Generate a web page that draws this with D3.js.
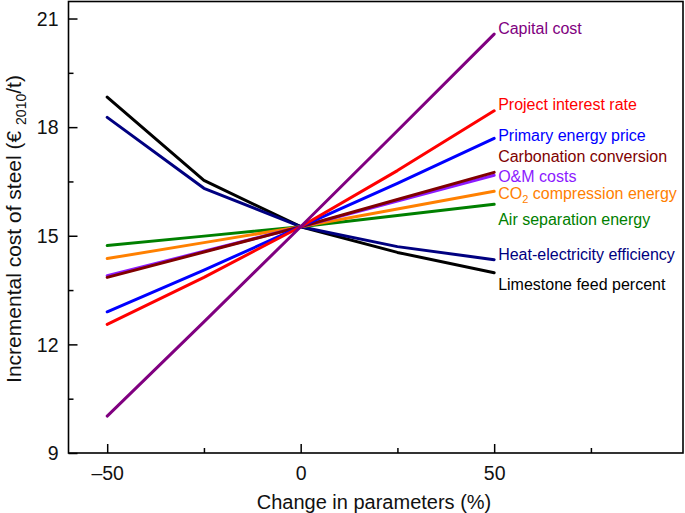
<!DOCTYPE html>
<html>
<head>
<meta charset="utf-8">
<script src="https://cdn.jsdelivr.net/npm/d3@7"></script>
<style>
  html, body { margin: 0; padding: 0; background: #fff; }
  svg { display: block; font-family: "Liberation Sans", Arial, Helvetica, sans-serif; }
</style>
</head>
<body>
<svg id="chart" width="685" height="513"></svg>
<script>
// ---- data ----
const xValues = [-50, -25, 0, 25, 50];
const seriesNames = [
  "Limestone feed percent",
  "Heat-electricity efficiency",
  "Air separation energy",
  "CO2 compression energy",
  "O&M costs",
  "Carbonation conversion",
  "Primary energy price",
  "Project interest rate",
  "Capital cost"
];
const limestone   = [18.83, 16.53, 15.25, 14.54, 13.98];
const heatElec    = [18.27, 16.31, 15.25, 14.70, 14.34];
const airSep      = [14.73, 14.99, 15.25, 15.56, 15.87];
const co2Comp     = [14.37, 14.81, 15.25, 15.74, 16.23];
const omCosts     = [13.90, 14.57, 15.25, 15.96, 16.67];
const carbonation = [13.85, 14.55, 15.25, 16.00, 16.75];
const primary     = [12.90, 14.05, 15.25, 16.45, 17.69];
const interest    = [12.55, 13.85, 15.25, 16.80, 18.45];
const capital     = [10.02, 12.62, 15.25, 17.90, 20.57];
const seriesColors = ["#000000", "#000080", "#008000", "#ff8000", "#8c1aff", "#800000", "#0000ff", "#ff0000", "#800080"];
// label anchor (value units) next to line ends
const labelAt = [13.65, 14.48, 15.45, 16.17, 16.64, 17.19, 17.78, 18.63, 20.74];
const yTicks = [9, 12, 15, 18, 21];
const yMinor = [10.5, 13.5, 16.5, 19.5];
const xTicks = [-50, 0, 50];
const xMinor = [-25, 25, 75];

const seriesValues = [limestone, heatElec, airSep, co2Comp, omCosts, carbonation, primary, interest, capital];

// ---- layout ----
const svg = d3.select("#chart");
const L = 68.5, R = 683, T = 1.5, B = 453;
const x = d3.scaleLinear().domain([-60, 98.8]).range([L, R]);
const y = d3.scaleLinear().domain([9, 21.47]).range([B, T]);

// frame
svg.append("rect").attr("x", L).attr("y", T).attr("width", R - L).attr("height", B - T)
  .attr("fill", "none").attr("stroke", "#000").attr("stroke-width", 1.6);

// axes (ticks inward)
const fs = 19.5;
const yAxis = svg.append("g").attr("transform", `translate(${L},0)`)
  .call(d3.axisRight(y).tickValues(yTicks).tickSize(9).tickFormat(d3.format("d")));
yAxis.select(".domain").remove();
yAxis.selectAll("line").attr("stroke", "#000").attr("stroke-width", 1.5);
yAxis.selectAll("text").attr("x", -10).attr("text-anchor", "end").attr("dy", "0.35em")
  .attr("font-size", fs).attr("fill", "#111").attr("font-family", "Liberation Sans, Arial, sans-serif");
const yMin = svg.append("g").attr("transform", `translate(${L},0)`)
  .call(d3.axisRight(y).tickValues(yMinor).tickSize(5).tickFormat(""));
yMin.select(".domain").remove();
yMin.selectAll("line").attr("stroke", "#000").attr("stroke-width", 1.5);

const xAxis = svg.append("g").attr("transform", `translate(0,${B})`)
  .call(d3.axisTop(x).tickValues(xTicks).tickSize(9).tickFormat(d => d < 0 ? "\u2013" + Math.abs(d) : d));
xAxis.select(".domain").remove();
xAxis.selectAll("line").attr("stroke", "#000").attr("stroke-width", 1.5);
xAxis.selectAll("text").attr("y", 27).attr("dy", 0)
  .attr("font-size", fs).attr("fill", "#111").attr("font-family", "Liberation Sans, Arial, sans-serif");
const xMin = svg.append("g").attr("transform", `translate(0,${B})`)
  .call(d3.axisTop(x).tickValues(xMinor).tickSize(5).tickFormat(""));
xMin.select(".domain").remove();
xMin.selectAll("line").attr("stroke", "#000").attr("stroke-width", 1.5);

// axis titles
svg.append("text").attr("x", 374).attr("y", 509).attr("text-anchor", "middle")
  .attr("font-size", 20).attr("fill", "#111").text("Change in parameters (%)");

const yt = svg.append("text").attr("transform", `translate(21,229) rotate(-90)`)
  .attr("text-anchor", "middle").attr("font-size", 21).attr("fill", "#111");
yt.append("tspan").text("Incremental cost of steel (\u20ac ");
yt.append("tspan").attr("font-size", 14).attr("dy", 5).text("2010");
yt.append("tspan").attr("dy", -5).text("/t)");

// lines
const line = d3.line().x((d, i) => x(xValues[i])).y(d => y(d));
svg.append("g").selectAll("path").data(seriesValues).join("path")
  .attr("d", d => line(d))
  .attr("fill", "none")
  .attr("stroke", (d, i) => seriesColors[i])
  .attr("stroke-width", 3)
  .attr("stroke-linejoin", "round")
  .attr("stroke-linecap", "round");

// labels
const lg = svg.append("g").attr("font-size", 16);
seriesNames.forEach((name, i) => {
  const t = lg.append("text").attr("x", x(50) + 4).attr("y", y(labelAt[i])).attr("dy", "0.35em")
    .attr("fill", seriesColors[i]);
  if (name === "CO2 compression energy") {
    t.append("tspan").text("CO");
    t.append("tspan").attr("font-size", 11).attr("dy", 4).text("2");
    t.append("tspan").attr("dy", -4).text(" compression energy");
  } else {
    t.text(name);
  }
});
</script>
</body>
</html>
